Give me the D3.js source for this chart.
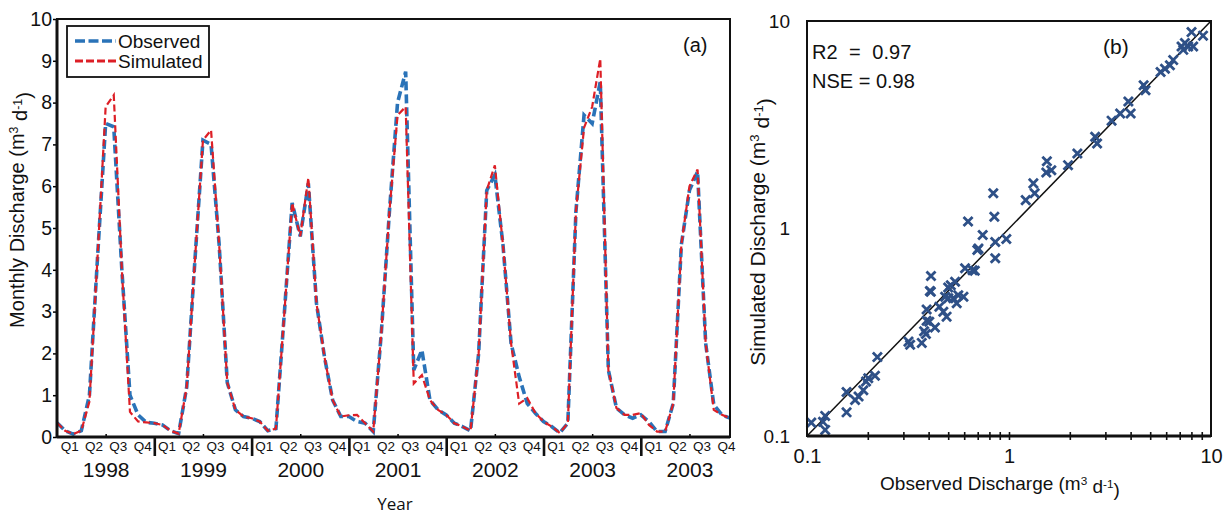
<!DOCTYPE html>
<html>
<head>
<meta charset="utf-8">
<style>
  body { margin: 0; background: #fff; }
  text { font-family: "Liberation Sans", Arial, sans-serif; fill: #111; }
</style>
</head>
<body>
<div id="chart"></div>
<script src="https://d3js.org/d3.v7.min.js"></script>
<script>
// monthly discharge, 7 years x 12 months
const observed = [
  0.34, 0.15, 0.07, 0.15, 1.0, 4.3, 7.5, 7.42, 4.0, 1.0, 0.53, 0.35,
  0.33, 0.29, 0.15, 0.08, 1.2, 4.2, 7.1, 7.0, 4.6, 1.3, 0.65, 0.49,
  0.45, 0.37, 0.15, 0.2, 2.86, 5.6, 4.8, 6.07, 3.2, 1.9, 0.88, 0.49,
  0.49, 0.37, 0.33, 0.13, 2.5, 5.4, 8.0, 8.74, 1.6, 2.08, 0.88, 0.65,
  0.53, 0.33, 0.25, 0.15, 2.0, 5.9, 6.27, 4.6, 2.24, 1.44, 0.8, 0.57,
  0.37, 0.25, 0.1, 0.33, 5.4, 7.7, 7.5, 8.5, 1.6, 0.69, 0.53, 0.45,
  0.53, 0.37, 0.13, 0.13, 0.8, 4.6, 5.9, 6.35, 2.24, 0.77, 0.53, 0.45
];
const simulated = [
  0.34, 0.15, 0.07, 0.15, 0.85, 4.3, 7.9, 8.18, 4.0, 0.6, 0.37, 0.35,
  0.33, 0.29, 0.15, 0.08, 1.2, 4.2, 7.1, 7.34, 4.6, 1.3, 0.65, 0.49,
  0.45, 0.37, 0.15, 0.2, 2.86, 5.6, 4.8, 6.2, 3.2, 1.9, 0.88, 0.49,
  0.52, 0.53, 0.33, 0.13, 2.5, 5.4, 7.7, 7.9, 1.28, 1.48, 0.88, 0.65,
  0.53, 0.33, 0.25, 0.15, 2.0, 5.9, 6.5, 4.6, 2.24, 0.8, 0.93, 0.57,
  0.37, 0.25, 0.1, 0.33, 5.4, 7.4, 7.9, 9.05, 1.6, 0.69, 0.53, 0.53,
  0.57, 0.29, 0.13, 0.13, 0.8, 4.6, 6.0, 6.4, 2.24, 0.65, 0.53, 0.45
];
const yearLabels = ["1998", "1999", "2000", "2001", "2002", "2003", "2003"];
const quarterLabels = ["Q1", "Q2", "Q3", "Q4"];
const yTicksA = [0, 1, 2, 3, 4, 5, 6, 7, 8, 9, 10];

// scatter (b): observed vs simulated
const scatterObs = [0.105, 0.123, 0.120, 0.123, 0.157, 0.157, 0.173, 0.180, 0.190, 0.196, 0.201, 0.217, 0.223,
  0.318, 0.324, 0.370, 0.388, 0.391, 0.391, 0.410, 0.411, 0.403, 0.430, 0.452, 0.473, 0.491, 0.483, 0.501,
  0.515, 0.541, 0.530, 0.551, 0.561, 0.595, 0.606, 0.677, 0.697, 0.855, 0.627, 0.846, 0.741, 0.706, 0.855,
  0.66, 0.406, 0.38, 0.50, 0.836, 0.97, 1.21, 1.32, 1.34, 1.54, 1.53, 1.62, 1.96, 2.18, 2.67, 2.73, 3.22,
  3.55, 3.90, 4.00, 4.64, 4.74, 5.63, 5.92, 6.26, 6.50, 7.29, 7.43, 7.71, 8.16, 8.01, 9.13, 7.15];
const scatterSim = [0.116, 0.125, 0.117, 0.107, 0.163, 0.130, 0.149, 0.155, 0.166, 0.183, 0.190, 0.195, 0.240,
  0.285, 0.275, 0.281, 0.310, 0.359, 0.407, 0.496, 0.590, 0.355, 0.333, 0.420, 0.397, 0.376, 0.469, 0.461,
  0.533, 0.554, 0.461, 0.436, 0.477, 0.469, 0.643, 0.626, 0.787, 0.719, 1.08, 1.14, 0.93, 0.80, 0.86,
  0.63, 0.50, 0.32, 0.52, 1.48, 0.89, 1.37, 1.65, 1.48, 2.11, 1.86, 1.91, 2.02, 2.30, 2.77, 2.57, 3.31,
  3.58, 4.09, 3.58, 4.90, 4.64, 5.68, 5.89, 6.12, 6.48, 7.26, 7.84, 7.54, 7.54, 8.84, 8.50, 7.54];
const logMajor = [0.1, 1, 10];
const logMinor = [0.2, 0.3, 0.4, 0.5, 0.6, 0.7, 0.8, 0.9, 2, 3, 4, 5, 6, 7, 8, 9];

const blue = "#2a73b8", red = "#dd1f26", markColor = "#2e5087";

const svg = d3.select("#chart").append("svg")
  .attr("width", 1227).attr("height", 517);

// adds "(m3 d-1)" with superscripts to a text element
function unitTitle(sel, label) {
  sel.append("tspan").text(label + " (m");
  sel.append("tspan").attr("dy", "-0.45em").style("font-size", "0.62em").text("3");
  sel.append("tspan").attr("dy", "0.45em").text(" d");
  sel.append("tspan").attr("dy", "-0.45em").style("font-size", "0.62em").text("-1");
  sel.append("tspan").attr("dy", "0.45em").text(")");
}

// ---------- panel (a) ----------
const a = { left: 57, right: 730, top: 19, bottom: 437 };
const xA = d3.scaleLinear().domain([0, 83]).range([a.left, a.right]);
const yA = d3.scaleLinear().domain([0, 10]).range([a.bottom, a.top]);

svg.append("clipPath").attr("id", "clipA")
  .append("rect").attr("x", a.left).attr("y", a.top)
  .attr("width", a.right - a.left).attr("height", a.bottom - a.top);

const gA = svg.append("g");

gA.append("g")
  .attr("transform", `translate(${a.left},0)`)
  .call(d3.axisLeft(yA).tickValues(yTicksA).tickSize(4).tickPadding(1))
  .call(g => g.select(".domain").remove())
  .call(g => g.selectAll("text").style("font-size", "19.5px").attr("fill", "#111"))
  .call(g => g.selectAll("line").attr("stroke-width", 1.5));

// year separators
const yearBounds = d3.range(1, 7).map(k => k * 12);
gA.append("g")
  .attr("transform", `translate(0,${a.bottom})`)
  .call(d3.axisBottom(xA).tickValues(yearBounds).tickSize(19).tickFormat(""))
  .call(g => g.select(".domain").remove())
  .call(g => g.selectAll("line").attr("stroke-width", 2.6).attr("stroke", "#111"));

// mid-year small ticks
gA.append("g")
  .attr("transform", `translate(0,${a.bottom})`)
  .call(d3.axisTop(xA).tickValues(d3.range(7).map(k => k * 12 + 6)).tickSize(3).tickFormat(""))
  .call(g => g.select(".domain").remove())
  .call(g => g.selectAll("line").attr("stroke-width", 1.5));

// quarter labels
const quarterPos = d3.range(28).map(k => k * 3 + 1.5);
gA.append("g")
  .attr("transform", `translate(0,${a.bottom})`)
  .call(d3.axisBottom(xA).tickValues(quarterPos).tickSize(0).tickPadding(4)
    .tickFormat((d, i) => quarterLabels[i % 4]))
  .call(g => g.select(".domain").remove())
  .call(g => g.selectAll("text").style("font-size", "13.5px").attr("fill", "#222"));

// year labels
gA.append("g")
  .attr("transform", `translate(0,${a.bottom})`)
  .call(d3.axisBottom(xA).tickValues(d3.range(7).map(k => k * 12 + 6)).tickSize(0).tickPadding(25)
    .tickFormat((d, i) => yearLabels[i]))
  .call(g => g.select(".domain").remove())
  .call(g => g.selectAll("text").style("font-size", "21px").attr("fill", "#111"));

const lineA = d3.line().x((d, i) => xA(i)).y(d => yA(d));

gA.append("path").datum(observed)
  .attr("clip-path", "url(#clipA)")
  .attr("d", lineA).attr("fill", "none")
  .attr("stroke", blue).attr("stroke-width", 3.6)
  .attr("stroke-dasharray", "9,4");
gA.append("path").datum(simulated)
  .attr("clip-path", "url(#clipA)")
  .attr("d", lineA).attr("fill", "none")
  .attr("stroke", red).attr("stroke-width", 2.2)
  .attr("stroke-dasharray", "7,3.5");

// frame
gA.append("rect").attr("x", a.left).attr("y", a.top)
  .attr("width", a.right - a.left).attr("height", a.bottom - a.top)
  .attr("fill", "none").attr("stroke", "#111").attr("stroke-width", 2);
gA.append("line").attr("x1", a.left).attr("x2", a.right).attr("y1", a.bottom).attr("y2", a.bottom)
  .attr("stroke", "#111").attr("stroke-width", 3);
gA.append("line").attr("x1", a.left).attr("x2", a.left).attr("y1", a.top).attr("y2", a.bottom)
  .attr("stroke", "#111").attr("stroke-width", 3);

// legend
const leg = gA.append("g");
leg.append("rect").attr("x", 67).attr("y", 26).attr("width", 142).attr("height", 51)
  .attr("fill", "#fff").attr("stroke", "#111").attr("stroke-width", 1.8);
[["Observed", blue, 3.6, "10,3.5", 41], ["Simulated", red, 3, "8,3", 61]].forEach(([lab, c, w, da, y]) => {
  leg.append("line").attr("x1", 75).attr("x2", 116).attr("y1", y).attr("y2", y)
    .attr("stroke", c).attr("stroke-width", w).attr("stroke-dasharray", da);
  leg.append("text").attr("x", 118).attr("y", y + 7).style("font-size", "19px").text(lab);
});

gA.append("text").attr("x", 683).attr("y", 52).style("font-size", "20px").text("(a)");

gA.append("text")
  .attr("transform", `translate(24,${210}) rotate(-90)`)
  .attr("text-anchor", "middle").style("font-size", "20px")
  .call(unitTitle, "Monthly Discharge");

gA.append("text").attr("x", 395).attr("y", 510).attr("text-anchor", "middle")
  .style("font-family", "'Open Sans', sans-serif").style("font-size", "17px").text("Year");

// ---------- panel (b) ----------
const b = { left: 807, right: 1211, top: 21, bottom: 436 };
const xB = d3.scaleLog().domain([0.1, 10]).range([b.left, b.right]);
const yB = d3.scaleLog().domain([0.1, 10]).range([b.bottom, b.top]);

const gB = svg.append("g");

gB.append("g")
  .attr("transform", `translate(${b.left},0)`)
  .call(d3.axisLeft(yB).tickValues(logMajor).tickSize(0).tickPadding(17).tickFormat(d3.format("")))
  .call(g => g.select(".domain").remove())
  .call(g => g.selectAll("text").style("font-size", "19px").attr("fill", "#111"));

gB.append("g")
  .attr("transform", `translate(0,${b.bottom})`)
  .call(d3.axisBottom(xB).tickValues(logMajor).tickSize(0).tickPadding(13).tickFormat(d3.format("")))
  .call(g => g.select(".domain").remove())
  .call(g => g.selectAll("text").style("font-size", "20px").attr("fill", "#111"));

// minor ticks crossing the bottom axis
gB.append("g")
  .attr("transform", `translate(0,${b.bottom + 4})`)
  .call(d3.axisTop(xB).tickValues(logMinor.concat([1])).tickSize(8).tickFormat(""))
  .call(g => g.select(".domain").remove())
  .call(g => g.selectAll("line").attr("stroke-width", 1.6).attr("stroke", "#111"));

gB.append("line")
  .attr("x1", xB(0.1)).attr("y1", yB(0.1)).attr("x2", xB(10)).attr("y2", yB(10))
  .attr("stroke", "#111").attr("stroke-width", 1.5);

const cross = d3.symbol().type(d3.symbolTimes).size(55);
gB.append("g").selectAll("path")
  .data(scatterObs)
  .join("path")
  .attr("transform", (d, i) => `translate(${xB(d)},${yB(scatterSim[i])})`)
  .attr("d", cross)
  .attr("fill", "none").attr("stroke", markColor).attr("stroke-width", 2.8);

gB.append("rect").attr("x", b.left).attr("y", b.top)
  .attr("width", b.right - b.left).attr("height", b.bottom - b.top)
  .attr("fill", "none").attr("stroke", "#111").attr("stroke-width", 2);
gB.append("line").attr("x1", b.left).attr("x2", b.right).attr("y1", b.bottom).attr("y2", b.bottom)
  .attr("stroke", "#111").attr("stroke-width", 3);

gB.append("text").attr("x", 812).attr("y", 59).style("font-size", "20px")
  .style("word-spacing", "6px").text("R2 = 0.97");
gB.append("text").attr("x", 812).attr("y", 88).style("font-size", "20px").text("NSE = 0.98");
gB.append("text").attr("x", 1103).attr("y", 54).style("font-size", "21px").text("(b)");

gB.append("text")
  .attr("transform", `translate(765,${232}) rotate(-90)`)
  .attr("text-anchor", "middle").style("font-size", "21px")
  .call(unitTitle, "Simulated Discharge");

gB.append("text").attr("x", 1000).attr("y", 490).attr("text-anchor", "middle")
  .style("font-size", "19px")
  .call(unitTitle, "Observed Discharge");
</script>
</body>
</html>
